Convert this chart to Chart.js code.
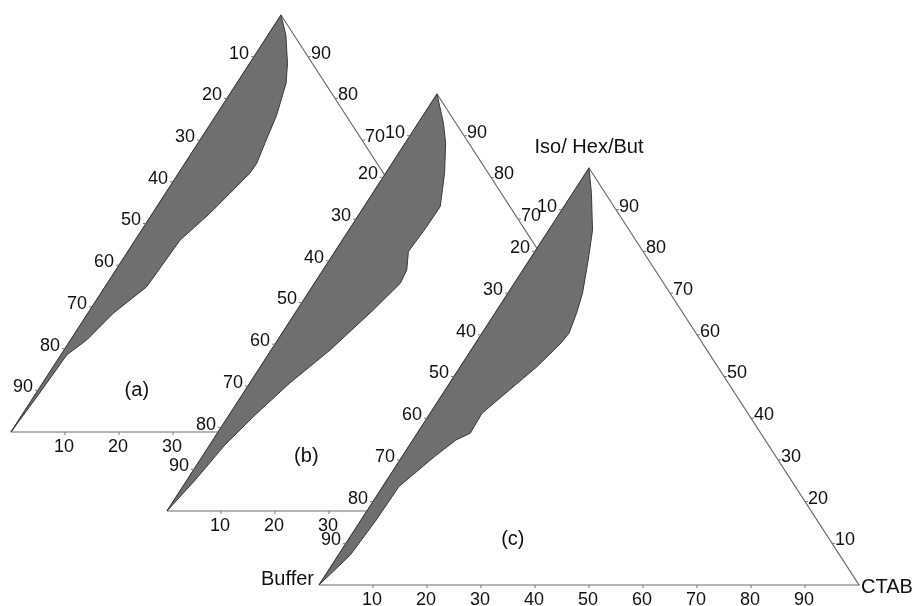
<!DOCTYPE html>
<html>
<head>
<meta charset="utf-8">
<script src="https://cdn.jsdelivr.net/npm/chart.js@4.4.1/dist/chart.umd.min.js"></script>
<style>
  html, body { margin: 0; padding: 0; background: #fff; }
  #wrap { width: 918px; height: 606px; }
</style>
</head>
<body>
<div id="wrap"><canvas id="ternary"></canvas></div>
<script>
// edge tick labels (percent)
const tickValues = [10, 20, 30, 40, 50, 60, 70, 80, 90];
const vertexLabels = { left: 'Buffer', right: 'CTAB', top: 'Iso/ Hex/But' };
const panelLabels = ['(a)', '(b)', '(c)'];

// boundary of the shaded area, [CTAB %, Iso %], from the Iso apex down to the Buffer corner
const regionA = [[0,100],[3.3,95.2],[7.0,88.4],[9.1,83.7],[11.2,76.0],[12.4,69.2],[13.3,64.4],[13.2,62.0],[11.9,57.2],[10.6,52.4],[8.3,46.0],[7.7,34.8],[4.7,28.5],[3.0,22.1],[1.1,18.5],[0.6,8.9],[0,0]];
const regionB = [[0,100],[4.7,93.0],[7.5,88.2],[10.9,81.0],[14.1,73.0],[14.0,68.2],[13.7,63.8],[13.6,62.2],[15.5,57.8],[15.9,54.6],[14.1,48.2],[10.9,38.6],[7.4,30.7],[4.8,23.0],[2.8,15.8],[1.5,7.4],[0,0]];
const regionC = [[0,100],[3.5,93.9],[8.1,85.1],[10.9,77.9],[13.8,70.0],[15.1,65.2],[16.1,60.4],[15.8,58.0],[14.2,52.4],[11.9,46.8],[9.6,41.2],[9.8,36.4],[8.0,34.8],[6.0,30.8],[3.0,23.6],[2.8,15.6],[2.2,7.2],[0,0]];

// layout of the three stacked triangles (page pixels); label = panel tag spot in ternary units
const W = 540, H = 417;
const panels = [
  { x0: 11,  y0: 432, region: regionA, label: [18.3, 10.0] },
  { x0: 167, y0: 511, region: regionB, label: [19.3, 13.0] },
  { x0: 319, y0: 585, region: regionC, label: [30.5, 10.8] }
];

// ternary (CTAB %, Iso %) -> x/y on the linear scales
function toXY(p, c, i) {
  return { x: p.x0 + W * c / 100 + W / 2 * i / 100, y: p.y0 - H * i / 100 };
}

const datasets = [];
let ord = panels.length * 2;
panels.forEach((p, k) => {
  datasets.push({
    data: [[0,0],[100,0],[0,100],[0,0]].map(v => toXY(p, v[0], v[1])),
    showLine: true, fill: 'shape', backgroundColor: '#ffffff',
    borderColor: '#6a6a6a', borderWidth: 1.2, pointRadius: 0, order: ord--
  });
  datasets.push({
    data: p.region.concat([[0,100]]).map(v => toXY(p, v[0], v[1])),
    showLine: true, fill: 'shape', backgroundColor: '#6f6f6f',
    borderColor: '#3a3a3a', borderWidth: 1, pointRadius: 0, order: ord--,
    panel: k
  });
});

const labelPlugin = {
  id: 'ternaryLabels',
  afterDatasetDraw(chart, args) {
    const ds = chart.data.datasets[args.index];
    if (ds.panel === undefined) return;
    const p = panels[ds.panel];
    const ctx = chart.ctx;
    ctx.save();
    ctx.fillStyle = '#111';
    ctx.strokeStyle = '#777';
    ctx.lineWidth = 1;
    ctx.font = '18px "Liberation Sans", Arial, sans-serif';
    ctx.textBaseline = 'middle';
    tickValues.forEach(v => {
      // left edge: Buffer %
      let a = toXY(p, 0, 100 - v);
      ctx.beginPath(); ctx.moveTo(a.x, a.y); ctx.lineTo(a.x - 3, a.y); ctx.stroke();
      ctx.textAlign = 'right';
      ctx.fillText(String(v), a.x - 5, a.y - 3);
      // right edge: Iso %
      a = toXY(p, 100 - v, v);
      ctx.beginPath(); ctx.moveTo(a.x, a.y); ctx.lineTo(a.x + 3, a.y); ctx.stroke();
      ctx.textAlign = 'left';
      ctx.fillText(String(v), a.x + 3, a.y - 3);
      // bottom edge: CTAB %
      a = toXY(p, v, 0);
      ctx.beginPath(); ctx.moveTo(a.x, a.y); ctx.lineTo(a.x, a.y + 3); ctx.stroke();
      ctx.textAlign = 'center';
      ctx.fillText(String(v), a.x - 1, a.y + 15);
    });
    const lp = toXY(p, p.label[0], p.label[1]);
    ctx.font = '20px "Liberation Sans", Arial, sans-serif';
    ctx.textAlign = 'center';
    ctx.fillText(panelLabels[ds.panel], lp.x, lp.y);
    if (ds.panel === panels.length - 1) {
      const b = toXY(p, 0, 0), c = toXY(p, 100, 0), t = toXY(p, 0, 100);
      ctx.textAlign = 'right';
      ctx.fillText(vertexLabels.left, b.x - 5, b.y - 6);
      ctx.textAlign = 'left';
      ctx.fillText(vertexLabels.right, c.x + 2, c.y + 2);
      ctx.textAlign = 'center';
      ctx.fillText(vertexLabels.top, t.x, t.y - 21);
    }
    ctx.restore();
  }
};

new Chart(document.getElementById('ternary').getContext('2d'), {
  type: 'scatter',
  data: { datasets: datasets },
  options: {
    responsive: true,
    maintainAspectRatio: false,
    animation: false,
    layout: { padding: 0 },
    scales: {
      x: { type: 'linear', min: 0, max: 918, display: false },
      y: { type: 'linear', min: 0, max: 606, reverse: true, display: false }
    },
    plugins: { legend: { display: false }, tooltip: { enabled: false } }
  },
  plugins: [labelPlugin]
});
</script>
</body>
</html>
